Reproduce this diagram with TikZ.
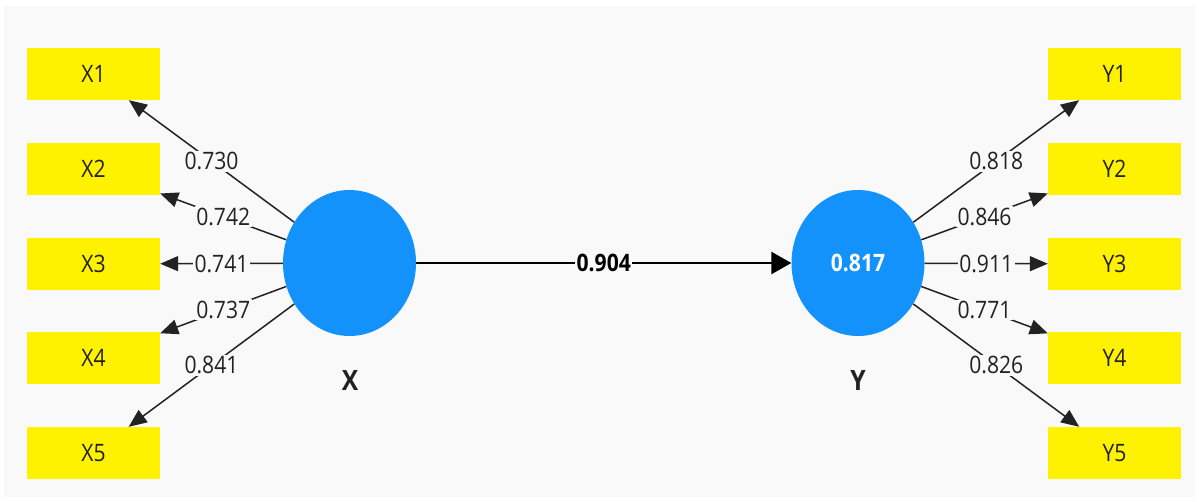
\documentclass[tikz,border=0pt]{standalone}
\usepackage{fontspec}
\setmainfont{Open Sans}[FakeStretch=0.88]
\usetikzlibrary{arrows.meta,shapes.geometric}
\definecolor{panelbg}{HTML}{F9F9F9}
\definecolor{lvblue}{RGB}{20,146,252}
\definecolor{txt}{HTML}{222222}
\tikzset{
  ind/.style={rectangle, fill=yellow, minimum width=133pt, minimum height=52pt, inner sep=0pt,
    text=txt, font=\fontsize{24}{28}\selectfont},
  lv/.style={ellipse, fill=lvblue, minimum width=133pt, minimum height=146pt, inner sep=0pt},
  lvname/.style={font=\fontsize{28}{32}\selectfont\bfseries, text=txt},
  load/.style={draw=txt, line width=1.5pt, -{Triangle[length=18pt,width=15pt]}},
  path/.style={draw=black, line width=2.6pt, -{Triangle[length=20pt,width=22pt]}},
  lab/.style={fill=panelbg, inner sep=1.5pt, text=txt, font=\fontsize{24}{28}\selectfont},
  blab/.style={fill=panelbg, inner sep=1.5pt, text=black, font=\fontsize{24}{28}\selectfont\bfseries},
}
\begin{document}
\begin{tikzpicture}[x=1pt,y=-1pt]
\useasboundingbox (0,0) rectangle (1199,501);
\fill[white] (0,0) rectangle (1199,501);
\fill[panelbg] (4,6) rectangle (1195,497);
% latent variables
\node[lv] (X) at (349.5,263) {};
\node[lv, text=white, font=\fontsize{24}{28}\selectfont\bfseries] (Y) at (858,263) {0.817};
\node[lvname] (Xn) at (350,380) {X};
\node[lvname] (Yn) at (858,380) {Y};
% indicators
\node[ind] (X1) at (93.5,74) {X1};
\node[ind] (X2) at (93.5,169) {X2};
\node[ind] (X3) at (93.5,264) {X3};
\node[ind] (X4) at (93.5,358) {X4};
\node[ind] (X5) at (93.5,453) {X5};
\node[ind] (Y1) at (1114.5,74) {Y1};
\node[ind] (Y2) at (1114.5,169) {Y2};
\node[ind] (Y3) at (1114.5,264) {Y3};
\node[ind] (Y4) at (1114.5,358) {Y4};
\node[ind] (Y5) at (1114.5,453) {Y5};
% loadings
\draw[load] (X) -- node[lab] {0.730} (X1);
\draw[load] (X) -- node[lab] {0.742} (X2);
\draw[load] (X) -- node[lab] {0.741} (X3);
\draw[load] (X) -- node[lab] {0.737} (X4);
\draw[load] (X) -- node[lab] {0.841} (X5);
\draw[load] (Y) -- node[lab] {0.818} (Y1);
\draw[load] (Y) -- node[lab] {0.846} (Y2);
\draw[load] (Y) -- node[lab] {0.911} (Y3);
\draw[load] (Y) -- node[lab] {0.771} (Y4);
\draw[load] (Y) -- node[lab] {0.826} (Y5);
% structural path
\draw[path] (X) -- node[blab] {0.904} (Y);
\end{tikzpicture}
\end{document}
